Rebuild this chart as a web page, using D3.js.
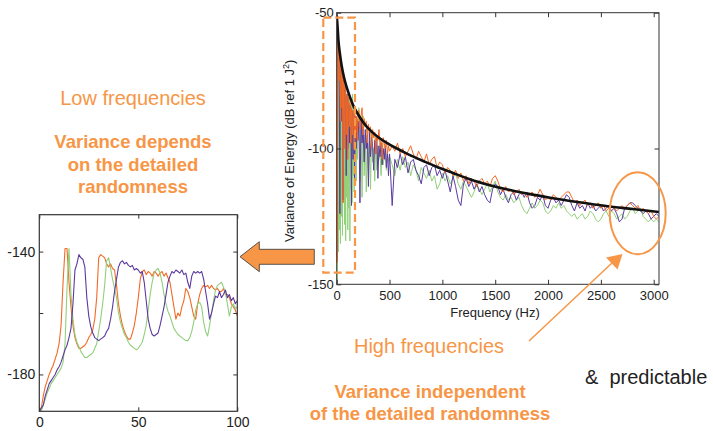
<!DOCTYPE html>
<html><head><meta charset="utf-8">
<script src="https://cdn.jsdelivr.net/npm/d3@7"></script>
<style>
body{margin:0;background:#fff}
svg{display:block}
text{font-family:"Liberation Sans",Arial,sans-serif}
</style>
</head><body>
<svg id="c" width="713" height="431"></svg>
<script>
// ---------- DATA ----------
// main spectrum frequency grid (Hz)
const freqs = [...d3.range(0, 205, 5), ...d3.range(210, 510, 10), ...d3.range(525, 3075, 25)];

const purpleMain = [
  -53,-140,-59,-62,-64,-80,-124,-68,-70,-72,-90,-73,-119,-75,-77,-95,-78,-80,-110,-80,
  -82,-100,-83,-85,-98,-84,-86,-90,-121,-86,-88,-104,-87,-89,-112,-88,-90,-100,-89,-91,-97,
  -90,-120,-89,-98,-92,-105,-93,-100,-95,-114,-94,-103,-96,-99,-108,-97,-102,-96,-111,-99,
  -103,-98,-106,-100,-104,-99,-107,-101,-110,-102,
  -121,-104,-107,-102,-106,-103,-109,-105,
  -104,-108,-110,-113,-107,-106,-110,-107,
  -106,-110,-108,-111,-108,-112,-116,-110,
  -114,-119,-121,-113,-111,-114,-112,-115,
  -113,-116,-114,-117,-119,-120,-115,-113,
  -114,-117,-115,-118,-120,-117,-116,-119,
  -117,-116,-118,-116,-120,-122,-121,-118,
  -119,-117,-121,-122,-119,-118,-120,-119,
  -121,-119,-117,-118,-121,-123,-120,-122,
  -121,-123,-120,-122,-121,-123,-122,-121,
  -123,-122,-121,-123,-122,-124,-127,-126,
  -122,-121,-120,-120,-121,-122,-123,-124,
  -123,-124,-126,-125,-124,-125
];
const orangeMain = [
  -52,-142,-57,-60,-75,-64,-66,-90,-70,-72,-85,-73,-120,-75,-78,-100,-77,-79,-95,-80,
  -82,-104,-81,-84,-92,-83,-85,-98,-85,-87,-95,-86,-88,-100,-87,-89,-94,-88,-91,-97,-89,
  -86,-93,-88,-85,-95,-89,-92,-90,-98,-91,-94,-92,-100,-93,-96,-94,-102,-95,-97,-93,
  -99,-97,-104,-96,-98,-100,-97,-102,-99,-101,
  -99,-101,-98,-102,-100,-103,-101,-99,
  -102,-104,-101,-103,-105,-102,-106,-104,
  -103,-107,-105,-106,-109,-107,-108,-110,
  -108,-111,-109,-112,-110,-113,-111,-112,
  -114,-112,-111,-113,-112,-114,-111,-110,
  -112,-115,-116,-114,-116,-115,-117,-116,
  -115,-117,-116,-118,-117,-116,-118,-117,
  -115,-117,-119,-118,-119,-117,-118,-119,
  -118,-117,-116,-116,-118,-120,-119,-121,
  -120,-119,-121,-120,-122,-121,-120,-122,
  -121,-123,-122,-121,-122,-123,-122,-121,
  -122,-121,-120,-121,-122,-121,-123,-122,
  -123,-124,-123,-125,-126,-125
];
const greenMain = [
  -54,-150,-59,-138,-65,-130,-68,-135,-71,-125,-74,-132,-76,-120,-78,-128,-78,-134,-80,-118,
  -80,-130,-82,-122,-80,-134,-84,-115,-82,-120,-80,-110,-86,-116,-88,-105,-89,-112,-90,-104,-91,
  -85,-112,-90,-118,-88,-110,-95,-116,-93,-108,-97,-115,-94,-105,-100,-112,-96,-108,-99,-104,
  -101,-110,-98,-106,-103,-100,-108,-102,-105,-103,
  -106,-110,-104,-108,-103,-107,-105,-110,
  -106,-108,-112,-107,-109,-111,-108,-112,
  -110,-115,-113,-109,-112,-110,-113,-111,
  -109,-113,-115,-112,-114,-116,-118,-116,
  -113,-115,-117,-115,-113,-116,-114,-112,
  -116,-118,-119,-117,-119,-118,-120,-119,
  -118,-121,-123,-124,-122,-120,-122,-121,
  -119,-120,-123,-124,-123,-121,-122,-120,
  -122,-121,-123,-124,-125,-124,-126,-125,
  -124,-126,-125,-123,-124,-126,-127,-126,
  -124,-123,-125,-123,-124,-126,-125,-124,
  -126,-125,-123,-122,-124,-123,-122,-125,
  -126,-127,-126,-127,-126,-127
];
// smooth predicted curve
const curveFreq = [0,8,16,30,47,70,95,125,158,200,250,330,410,490,570,650,725,830,945,1100,1260,1450,1640,1830,2020,2280,2550,2800,3050];
const curveVal  = [-51,-55,-60,-65,-69.5,-74,-77.5,-81,-84.3,-87.3,-90.3,-93.8,-96.3,-98.3,-100,-101.6,-103,-104.8,-106.7,-109,-111.3,-113.5,-115.3,-116.8,-118.1,-119.7,-121.2,-122.3,-123.4];

const mainXTicks = [0,500,1000,1500,2000,2500,3000];
const mainYTicks = [-150,-100,-50];

// inset (0-100 Hz)
const insetX = d3.range(0, 101);
const orangeInset = [
  -192,-191,-187,-184,-182,-180,-178.5,-177,-175,-173,
  -170,-164,-150,-139,-139,-150,-158,-164,-168,-170,
  -171.5,-171.5,-171,-170.5,-169.5,-168,-167,-165.5,-162,-155,
  -142,-141,-141.5,-142,-144,-145,-144,-145.5,-146,-151,
  -157,-161,-164,-166,-167.5,-168.5,-168.5,-166.5,-164,-160,
  -155,-149,-146.5,-146,-147.5,-146.5,-147,-148,-146.5,-147,
  -148,-147,-146.5,-148,-147,-148.5,-150,-154,-158,-162,
  -160,-161,-158,-156,-152,-153,-155,-158,-161,-162,
  -157,-154,-152,-151,-151.5,-151,-152,-151,-152,-152.5,
  -152,-153,-153,-152,-154,-154,-155,-157,-158,-159,
  -161
];
const purpleInset = [
  -192,-191,-190,-187,-185,-183,-182,-181,-180,-178.5,
  -177.5,-176,-174,-172,-170.5,-168,-165,-157,-146,-144,
  -141,-142,-142.5,-145,-155,-161,-164.5,-166.5,-168,-168.5,
  -169,-168.5,-168,-167.5,-166,-165,-162,-158,-153,-149,
  -145,-143.5,-143,-144,-143.5,-144.5,-145,-144.5,-146,-145.5,
  -146,-147,-146.5,-150,-156,-162,-165,-167,-167.5,-167,
  -166.5,-164,-161,-158,-154,-150,-148,-146.5,-147,-146,
  -146.5,-147,-146,-147.5,-147,-150,-152,-148,-146.5,-147,
  -146.5,-147,-146.5,-149,-153,-157,-162,-160,-157,-154.5,
  -155,-153,-155,-154,-152.5,-155,-154,-156,-155,-157,
  -156
];
const greenInset = [
  -192.5,-192,-190,-188,-186,-184.5,-183,-182,-181,-180,
  -179,-178,-176,-170,-152,-139,-154,-162,-167,-169.5,
  -171,-172.5,-173.5,-174.5,-174.5,-174,-173.5,-173,-171.5,-170,
  -166,-162,-157,-151,-143,-142,-145.5,-149,-152,-155,
  -160,-163,-165,-167,-168,-169.5,-170.5,-171,-171.5,-172,
  -171.5,-170.5,-169.5,-167,-164,-159,-154,-150,-147,-146,
  -145.5,-147,-150,-154,-157,-159.5,-161,-163,-165,-166,
  -167,-167.5,-168,-168.5,-169,-169,-168,-166,-163,-159,
  -157,-156.5,-158,-163,-166,-167.5,-164,-160,-156,-152.5,
  -151,-150.5,-150,-151.5,-153.5,-157,-161,-158,-157,-158.5,
  -158
];
const insetXTicks = [0,50,100];
const insetYTicks = [-180,-160,-140];
const insetYLabels = [-180,-140];

// ---------- STYLE ----------
const C_PURPLE = "#5b3a9f", C_ORANGE = "#f26a24", C_GREEN = "#92cf7a";
const C_ANN = "#f79646", C_AXIS = "#333";

const svg = d3.select("#c");

// ---------- MAIN CHART ----------
const x = d3.scaleLinear().domain([0, 3050]).range([336.7, 659]);
const y = d3.scaleLinear().domain([-150, -50]).range([284.3, 12.7]);

svg.append("clipPath").attr("id","mclip").append("rect")
  .attr("x", x.range()[0]).attr("y", y.range()[1])
  .attr("width", x.range()[1]-x.range()[0]).attr("height", y.range()[0]-y.range()[1]);

const gm = svg.append("g").attr("clip-path","url(#mclip)");
const lineM = d3.line().x((d,i)=>x(freqs[i])).y(d=>y(d));
[[greenMain,C_GREEN],[purpleMain,C_PURPLE],[orangeMain,C_ORANGE]].forEach(([s,c])=>{
  gm.append("path").attr("d", lineM(s)).attr("fill","none").attr("stroke",c)
    .attr("stroke-width",1).attr("stroke-linejoin","round");
});
const curveLine = d3.line().x((d,i)=>x(curveFreq[i])).y(d=>y(d)).curve(d3.curveMonotoneX);
gm.append("path").attr("d", curveLine(curveVal)).attr("fill","none")
  .attr("stroke","#111").attr("stroke-width",2.6);

function styleAxis(g, fs){
  g.select(".domain").remove();
  g.selectAll(".tick line").attr("stroke", C_AXIS);
  g.selectAll("text").attr("font-size", fs).attr("fill","#222")
    .attr("font-family",'"Liberation Sans",Arial,sans-serif');
}
const fmt = d => String(d);
svg.append("g").attr("transform",`translate(0,${y.range()[0]})`)
  .call(d3.axisBottom(x).tickValues(mainXTicks).tickSize(-4.5).tickPadding(6).tickFormat(fmt))
  .call(g=>styleAxis(g,13));
svg.append("g").attr("transform",`translate(0,${y.range()[1]})`)
  .call(d3.axisTop(x).tickValues(mainXTicks).tickSize(-4.5).tickFormat(""))
  .call(g=>styleAxis(g,13));
svg.append("g").attr("transform",`translate(${x.range()[0]},0)`)
  .call(d3.axisLeft(y).tickValues(mainYTicks).tickSize(-4.5).tickPadding(3).tickFormat(fmt))
  .call(g=>styleAxis(g,13));
svg.append("g").attr("transform",`translate(${x.range()[1]},0)`)
  .call(d3.axisRight(y).tickValues(mainYTicks).tickSize(-4.5).tickFormat(""))
  .call(g=>styleAxis(g,13));
svg.append("rect").attr("x",x.range()[0]).attr("y",y.range()[1])
  .attr("width",x.range()[1]-x.range()[0]).attr("height",y.range()[0]-y.range()[1])
  .attr("fill","none").attr("stroke",C_AXIS).attr("stroke-width",1);

svg.append("text").attr("x",495).attr("y",317).attr("text-anchor","middle")
  .attr("font-size",13).attr("fill","#222").text("Frequency (Hz)");
const yl = svg.append("text").attr("transform","translate(294.3,150.8) rotate(-90)")
  .attr("text-anchor","middle").attr("font-size",13).attr("fill","#222");
yl.append("tspan").text("Variance of Energy (dB ref 1 J");
yl.append("tspan").attr("font-size",9).attr("dy",-5).text("2");
yl.append("tspan").attr("dy",5).text(")");

// annotations on main chart
svg.append("rect").attr("x",323.3).attr("y",17.7).attr("width",31.7).attr("height",255)
  .attr("fill","none").attr("stroke",C_ANN).attr("stroke-width",2.2).attr("stroke-dasharray","8,4");
svg.append("ellipse").attr("cx",637.7).attr("cy",213.3).attr("rx",28).attr("ry",41)
  .attr("fill","none").attr("stroke",C_ANN).attr("stroke-width",2);

// arrow line to ellipse
svg.append("line").attr("x1",529).attr("y1",341).attr("x2",612).attr("y2",263)
  .attr("stroke",C_ANN).attr("stroke-width",1.5);
svg.append("polygon").attr("points","622.5,254 606,257.5 617.5,269.5").attr("fill",C_ANN);

// block arrow to inset
svg.append("polygon")
  .attr("points","240,256.7 259.3,241.7 259.3,249.3 314.3,249.3 314.3,264.3 259.3,264.3 259.3,271.7")
  .attr("fill",C_ANN).attr("stroke","#333").attr("stroke-width",0.8);

// ---------- INSET ----------
const xi = d3.scaleLinear().domain([0,100]).range([39.3,237.3]);
const yi = d3.scaleLinear().domain([-192,-128]).range([411.3,214.7]);
svg.append("clipPath").attr("id","iclip").append("rect")
  .attr("x",xi.range()[0]).attr("y",yi.range()[1])
  .attr("width",xi.range()[1]-xi.range()[0]).attr("height",yi.range()[0]-yi.range()[1]);
const gi = svg.append("g").attr("clip-path","url(#iclip)");
const lineI = d3.line().x((d,i)=>xi(insetX[i])).y(d=>yi(d));
[[orangeInset,C_ORANGE],[greenInset,C_GREEN],[purpleInset,C_PURPLE]].forEach(([s,c])=>{
  gi.append("path").attr("d",lineI(s)).attr("fill","none").attr("stroke",c)
    .attr("stroke-width",1.1).attr("stroke-linejoin","round");
});
svg.append("g").attr("transform",`translate(0,${yi.range()[0]})`)
  .call(d3.axisBottom(xi).tickValues(insetXTicks).tickSize(-4).tickPadding(5.5).tickFormat(fmt))
  .call(g=>styleAxis(g,14));
svg.append("g").attr("transform",`translate(0,${yi.range()[1]})`)
  .call(d3.axisTop(xi).tickValues(insetXTicks).tickSize(-4).tickFormat(""))
  .call(g=>styleAxis(g,14));
svg.append("g").attr("transform",`translate(${xi.range()[0]},0)`)
  .call(d3.axisLeft(yi).tickValues(insetYTicks).tickSize(-4).tickPadding(4)
    .tickFormat(d => insetYLabels.includes(d) ? String(d) : ""))
  .call(g=>styleAxis(g,14));
svg.append("g").attr("transform",`translate(${xi.range()[1]},0)`)
  .call(d3.axisRight(yi).tickValues(insetYTicks).tickSize(-4).tickFormat(""))
  .call(g=>styleAxis(g,14));
svg.append("rect").attr("x",xi.range()[0]).attr("y",yi.range()[1])
  .attr("width",xi.range()[1]-xi.range()[0]).attr("height",yi.range()[0]-yi.range()[1])
  .attr("fill","none").attr("stroke",C_AXIS).attr("stroke-width",1.2);

// ---------- TEXT ANNOTATIONS ----------
function txt(xp, yp, s, opts){
  const t = svg.append("text").attr("x",xp).attr("y",yp).attr("text-anchor",opts.anchor||"middle")
    .attr("font-size",opts.size).attr("fill",opts.fill||C_ANN)
    .attr("font-weight",opts.bold?"bold":"normal").style("white-space","pre").text(s);
  return t;
}
txt(133,105,"Low frequencies",{size:20});
txt(133,148.3,"Variance depends",{size:18.5,bold:true});
txt(133,171,"on the detailed",{size:18.5,bold:true});
txt(133,193.3,"randomness",{size:18.5,bold:true});
txt(429,353.3,"High frequencies",{size:20});
txt(430,397.5,"Variance independent",{size:18.5,bold:true});
txt(430,419.5,"of the detailed randomness",{size:18.5,bold:true});
txt(585,384,"&  predictable",{size:20,anchor:"start",fill:"#222"});
</script>
</body></html>
